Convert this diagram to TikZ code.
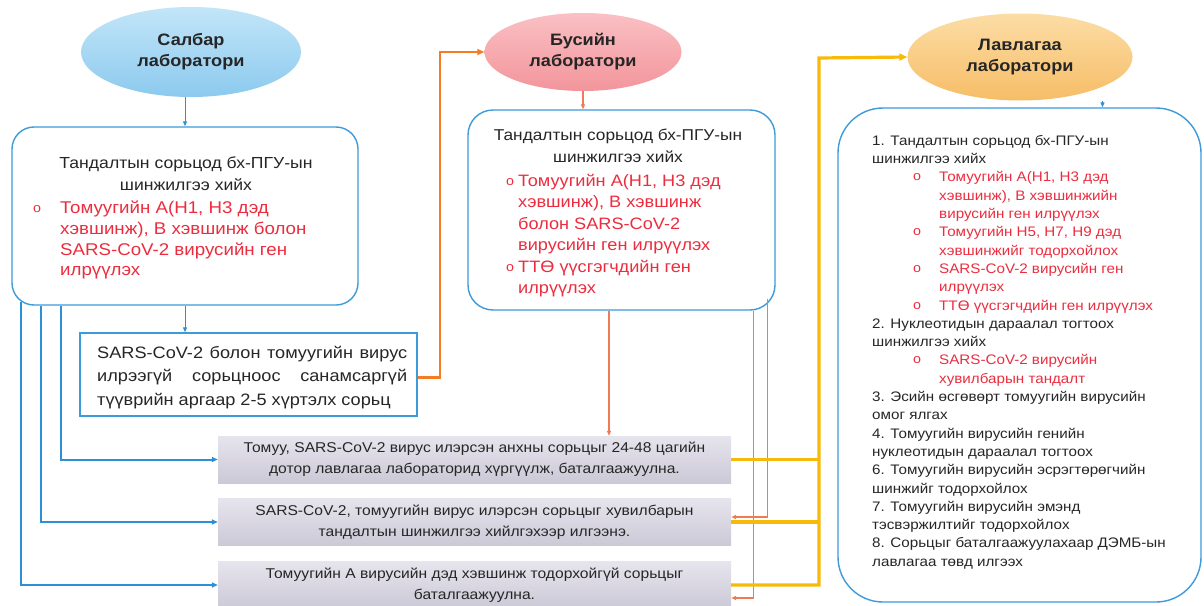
\documentclass[tikz,border=0pt]{standalone}
\usepackage{fontspec}
\setmainfont{Liberation Sans}[FakeStretch=1.1]
\usetikzlibrary{shapes.geometric,arrows.meta}
\definecolor{boxblue}{HTML}{3D9BDA}
\definecolor{lineblue}{HTML}{2F8FD6}
\definecolor{redtxt}{HTML}{EC2D3F}
\definecolor{darktxt}{HTML}{262626}
\definecolor{orthick}{HTML}{F47C22}
\definecolor{orthin}{HTML}{EF7A55}
\definecolor{yel}{HTML}{F7BA0A}
\definecolor{grayA}{HTML}{E6E4EC}
\definecolor{grayB}{HTML}{CCC9D7}
\definecolor{eblueA}{HTML}{C2E5F8}
\definecolor{eblueB}{HTML}{8CCAEE}
\definecolor{epinkA}{HTML}{FAC0C4}
\definecolor{epinkB}{HTML}{F2959B}
\definecolor{eorA}{HTML}{FCDDA6}
\definecolor{eorB}{HTML}{F6BD66}
\newcommand\bulo{\raisebox{1pt}{\fontsize{13}{13}\selectfont o}}
\newcommand\rbul[1]{\hspace*{41pt}\makebox[26pt][l]{\textcolor{redtxt}{\bulo}}\textcolor{redtxt}{#1}}
\newcommand\rcont[1]{\hspace*{67pt}\textcolor{redtxt}{#1}}
\begin{document}
\begin{tikzpicture}[x=1pt,y=-1pt,
  lab/.style={ellipse, inner sep=0pt, align=center, text=darktxt,
    font=\fontsize{16.5}{21}\selectfont\bfseries},
  rbox/.style={draw=boxblue, line width=1.4pt, rounded corners=#1, fill=white, inner sep=0pt},
  graybox/.style={shade, top color=grayA, bottom color=grayB, minimum width=513pt,
    minimum height=47pt, inner sep=0pt, align=center, text=darktxt,
    font=\fontsize{14.2}{21}\selectfont},
  bigtxt/.style={inner sep=0pt, align=center, text=darktxt},
  redlist/.style={inner sep=0pt, align=left, text=redtxt, anchor=north west},
  bconn/.style={draw=lineblue, line width=2pt, -{Triangle[length=6pt,width=5pt]}},
  bthin/.style={draw=lineblue, line width=1pt, -{Triangle[length=5pt,width=4pt]}},
  othin/.style={draw=orthin, line width=1.3pt, -{Triangle[length=5pt,width=4pt]}},
  othick/.style={draw=orthick, line width=2.6pt, -{Triangle[length=7pt,width=6pt]}},
  ythick/.style={draw=yel, line width=3.2pt},
]
\fill[white] (0,0) rectangle (1204,605);
\useasboundingbox (0,0) rectangle (1204,605);

% ellipses
\node[lab, shade, top color=eblueA, bottom color=eblueB, minimum width=220pt, minimum height=90pt] (e1) at (191,52) {Салбар\\лаборатори};
\node[lab, shade, top color=epinkA, bottom color=epinkB, minimum width=197pt, minimum height=78pt] (e2) at (583,52) {Бусийн\\лаборатори};
\node[lab, shade, top color=eorA, bottom color=eorB, minimum width=225pt, minimum height=87pt] (e3) at (1020,57) {Лавлагаа\\лаборатори};

% left box
\node[rbox=22pt, minimum width=346pt, minimum height=178pt] (b1) at (185,216) {};
\node[bigtxt, anchor=north, font=\fontsize{16}{22}\selectfont] (t1) at (186,157) {Тандалтын сорьцод бх-ПГУ-ын\\шинжилгээ хийх};
\node[redlist, font=\fontsize{17}{20.6}\selectfont] (l1) at (33,201) {\makebox[27pt][l]{\bulo}Томуугийн А(Н1, Н3 дэд\\
\hspace*{27pt}хэвшинж), В хэвшинж болон\\
\hspace*{27pt}SARS-CoV-2 вирусийн ген\\
\hspace*{27pt}илрүүлэх};

% middle box
\node[rbox=25pt, minimum width=307pt, minimum height=200pt] (b2) at (621.5,210) {};
\node[bigtxt, anchor=north, font=\fontsize{15.7}{22}\selectfont] (t2) at (618,129) {Тандалтын сорьцод бх-ПГУ-ын\\шинжилгээ хийх};
\node[redlist, font=\fontsize{16.5}{21.4}\selectfont] (l2) at (506,174) {\makebox[12pt][l]{\bulo}Томуугийн А(Н1, Н3 дэд\\
\hspace*{12pt}хэвшинж), В хэвшинж\\
\hspace*{12pt}болон SARS-CoV-2\\
\hspace*{12pt}вирусийн ген илрүүлэх\\
\makebox[12pt][l]{\bulo}ТТӨ үүсгэгчдийн ген\\
\hspace*{12pt}илрүүлэх};

% right box
\node[rbox=45pt, minimum width=363pt, minimum height=494pt] (b3) at (1019.5,355) {};
\node[inner sep=0pt, anchor=north west, align=left, text=darktxt,
  font=\fontsize{13.8}{18.3}\selectfont] (rt) at (872,135) {%
1. Тандалтын сорьцод бх-ПГУ-ын\\
шинжилгээ хийх\\
\rbul{Томуугийн А(Н1, Н3 дэд}\\
\rcont{хэвшинж), В хэвшинжийн}\\
\rcont{вирусийн ген илрүүлэх}\\
\rbul{Томуугийн Н5, Н7, Н9 дэд}\\
\rcont{хэвшинжийг тодорхойлох}\\
\rbul{SARS-CoV-2 вирусийн ген}\\
\rcont{илрүүлэх}\\
\rbul{ТТӨ үүсгэгчдийн ген илрүүлэх}\\
2. Нуклеотидын дараалал тогтоох\\
шинжилгээ хийх\\
\rbul{SARS-CoV-2 вирусийн}\\
\rcont{хувилбарын тандалт}\\
3. Эсийн өсгөвөрт томуугийн вирусийн\\
омог ялгах\\
4. Томуугийн вирусийн генийн\\
нуклеотидын дараалал тогтоох\\
6. Томуугийн вирусийн эсрэгтөрөгчийн\\
шинжийг тодорхойлох\\
7. Томуугийн вирусийн эмэнд\\
тэсвэржилтийг тодорхойлох\\
8. Сорьцыг баталгаажуулахаар ДЭМБ-ын\\
лавлагаа төвд илгээх};

% SARS rectangle
\node[draw=boxblue, line width=1.4pt, fill=white, minimum width=337pt, minimum height=83pt, inner sep=0pt] (s) at (248.5,374.5) {};
\node[inner sep=0pt, anchor=north west, align=left, text=darktxt,
  font=\fontsize{16.5}{23.5}\selectfont] (st) at (97,346) {%
\makebox[310pt][s]{SARS-CoV-2 болон томуугийн вирус}\\
\makebox[310pt][s]{илрээгүй сорьцноос санамсаргүй}\\
түүврийн аргаар 2-5 хүртэлх сорьц};

% gray boxes
\node[graybox] (ga) at (474.5,459.5) {Томуу, SARS-CoV-2 вирус илэрсэн анхны сорьцыг 24-48 цагийн\\дотор лавлагаа лабораторид хүргүүлж, баталгаажуулна.};
\node[graybox] (gb) at (474.5,522) {SARS-CoV-2, томуугийн вирус илэрсэн сорьцыг хувилбарын\\тандалтын шинжилгээ хийлгэхээр илгээнэ.};
\node[graybox] (gc) at (474.5,585) {Томуугийн А вирусийн дэд хэвшинж тодорхойгүй сорьцыг\\баталгаажуулна.};

% coordinates
\coordinate (obus) at (440,52);
\coordinate (ybus) at (819,58);

% connectors from ellipses
\draw[bthin] (b1.north |- e1.south) -- (b1.north);
\draw[othin] (e2.south) -- (e2.south |- b2.north);
\draw[bthin] ([xshift=83pt]b3.north |- e3.south) -- ([xshift=83pt]b3.north);

% left box to SARS rect
\draw[bthin] (b1.south) -- (b1.south |- s.north);

% blue connectors to gray boxes
\draw[bconn] ([xshift=10pt,yshift=4pt]b1.south west) |- (gc.west);
\draw[bconn] ([xshift=30pt]b1.south west) |- (gb.west);
\draw[bconn] ([xshift=50pt]b1.south west) |- (ga.west);

% orange thick from SARS rect to Бусийн
\draw[othick] ([yshift=-3pt]s.east) -| (obus) -- (e2.west);

% orange thin from middle box
\draw[othin] ([xshift=-12.5pt]b2.south) -- ([xshift=-12.5pt]b2.south |- ga.north);
\draw[othin] ([xshift=-8.5pt,yshift=12pt]b2.south east) |- ([yshift=5pt]gb.east);
\draw[othin] ([xshift=-22.5pt]b2.south east) |- ([yshift=-13pt]gc.east);

% yellow
\draw[ythick] (ga.east) -- (ga.east -| ybus);
\draw[ythick] (gb.east) -- (gb.east -| ybus);
\draw[ythick, -{Triangle[length=8pt,width=7pt]}] (gc.east) -| (ybus) -- (e3.west);
\end{tikzpicture}
\end{document}
